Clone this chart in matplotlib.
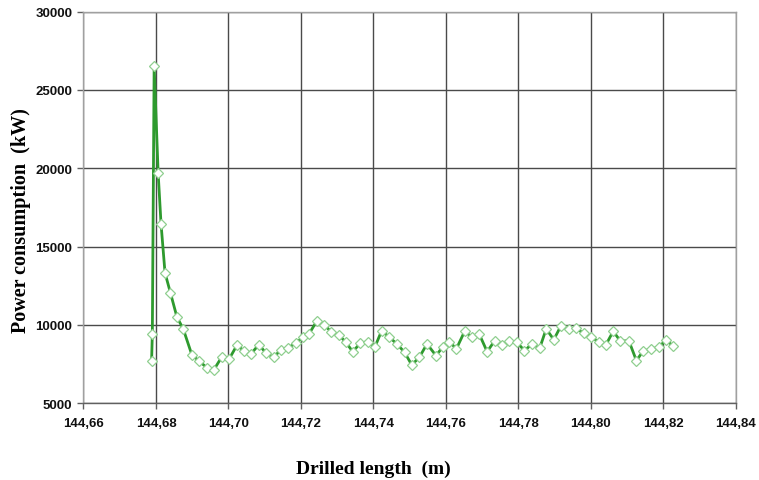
import matplotlib
matplotlib.use("Agg")
import matplotlib.pyplot as plt

drilled_length = [
    144.6788, 144.6790, 144.6795, 144.6806, 144.6814, 144.6825, 144.6840, 144.6858,
    144.6875, 144.6899, 144.6919, 144.6940, 144.6959, 144.6982, 144.7002, 144.7024,
    144.7044, 144.7062, 144.7084, 144.7104, 144.7125, 144.7145, 144.7165, 144.7186,
    144.7205, 144.7223, 144.7244, 144.7265, 144.7283, 144.7304, 144.7324, 144.7343,
    144.7364, 144.7384, 144.7404, 144.7423, 144.7444, 144.7465, 144.7486, 144.7506,
    144.7527, 144.7548, 144.7573, 144.7592, 144.7610, 144.7629, 144.7652, 144.7672,
    144.7692, 144.7714, 144.7735, 144.7755, 144.7773, 144.7796, 144.7817, 144.7838,
    144.7859, 144.7877, 144.7898, 144.7918, 144.7939, 144.7959, 144.7980, 144.8002,
    144.8024, 144.8042, 144.8062, 144.8082, 144.8105, 144.8126, 144.8144, 144.8167,
    144.8188, 144.8208, 144.8227,
]
power_kw = [
    7720, 9425, 26520, 19707, 16450, 13321, 12044, 10492,
    9764, 8097, 7695, 7280, 7107, 7970, 7829, 8723,
    8308, 8148, 8742, 8193, 7938, 8423, 8551, 8832,
    9215, 9445, 10256, 10000, 9572, 9381, 8895, 8295,
    8832, 8934, 8576, 9636, 9215, 8787, 8257, 7446,
    7938, 8787, 8040, 8615, 8934, 8468, 9598, 9215,
    9425, 8295, 8998, 8723, 8998, 8895, 8359, 8787,
    8512, 9745, 9061, 9956, 9745, 9790, 9470, 9215,
    8895, 8742, 9598, 8959, 8998, 7720, 8321, 8468,
    8576, 9061, 8640,
]
x_ticks = [144.66, 144.68, 144.70, 144.72, 144.74, 144.76, 144.78, 144.80, 144.82, 144.84]
x_tick_labels = ["144,66", "144,68", "144,70", "144,72", "144,74", "144,76",
                 "144,78", "144,80", "144,82", "144,84"]
y_ticks = [5000, 10000, 15000, 20000, 25000, 30000]
y_tick_labels = ["5000", "10000", "15000", "20000", "25000", "30000"]

W, H = 759, 481
fig = plt.figure(figsize=(W / 100, H / 100), dpi=100)
ax = fig.add_axes([0.110, 0.1595, 0.8593, 0.8145])

ax.plot(drilled_length, power_kw, color="#2e9a2e", linewidth=2.0,
        marker="D", markersize=5, markerfacecolor="white",
        markeredgecolor="#8fcf8f", markeredgewidth=0.9, zorder=3)

ax.set_xlim(144.66, 144.84)
ax.set_ylim(5000, 30000)
ax.set_xticks(x_ticks)
ax.set_xticklabels(x_tick_labels)
ax.set_yticks(y_ticks)
ax.set_yticklabels(y_tick_labels)

ax.grid(True, color="#4a4a4a", linewidth=1.0, zorder=1)
ax.set_axisbelow(True)

for side in ["left", "top", "right"]:
    ax.spines[side].set_color("#a0a0a0")
    ax.spines[side].set_linewidth(1.0)
ax.spines["bottom"].set_color("#606060")
ax.spines["bottom"].set_linewidth(1.0)

ax.tick_params(axis="both", direction="out", length=4, width=1, color="#606060")
for lbl in ax.get_xticklabels() + ax.get_yticklabels():
    lbl.set_fontfamily("Liberation Sans")
    lbl.set_fontweight("bold")
    lbl.set_fontsize(9.5)
    lbl.set_color("#111111")
ax.tick_params(axis="x", pad=6)
ax.tick_params(axis="y", pad=4)

fig.text(373 / W, 1 - 469 / H, "Drilled length  (m)", fontfamily="Liberation Serif",
         fontweight="bold", fontsize=14, ha="center", va="center")
fig.text(21 / W, 1 - 221 / H, "Power consumption  (kW)", fontfamily="Liberation Serif",
         fontweight="bold", fontsize=14.5, ha="center", va="center", rotation=90)

fig.savefig("out.png", dpi=100, facecolor="white")
